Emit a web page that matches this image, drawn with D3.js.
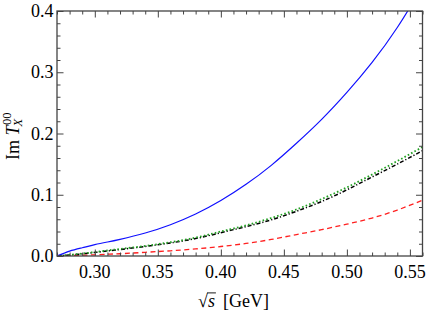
<!DOCTYPE html>
<html><head><meta charset="utf-8">
<script src="https://cdn.jsdelivr.net/npm/d3@7"></script>
<style>body{margin:0;background:#fff}svg{display:block}</style>
</head><body>
<svg id="c" width="427" height="313"></svg>
<script>
const sqrtS = [0.27,0.28,0.29,0.30,0.31,0.32,0.34,0.36,0.38,0.40,0.42,0.44,0.46,0.48,0.50,0.52,0.54,0.56];
const blue  = [0.000,0.008,0.0135,0.0185,0.0228,0.0272,0.0375,0.051,0.0685,0.0905,0.117,0.148,0.184,0.223,0.267,0.316,0.373,0.440];
const green = [0.000,0.002,0.004,0.0065,0.009,0.0115,0.0165,0.0225,0.030,0.040,0.050,0.062,0.076,0.093,0.112,0.133,0.155,0.178];
const black = [0.000,0.0017,0.0035,0.0058,0.0082,0.0106,0.0155,0.0213,0.0285,0.038,0.048,0.059,0.073,0.089,0.108,0.129,0.150,0.172];
const red   = [0.000,0.0007,0.0013,0.002,0.003,0.0037,0.006,0.0085,0.0115,0.0155,0.0205,0.027,0.035,0.043,0.052,0.062,0.075,0.091];
const xTicks = [0.30,0.35,0.40,0.45,0.50,0.55];
const yTicks = [0.0,0.1,0.2,0.3,0.4];

const svg = d3.select("#c");
const L=57, R=422.5, T=11, B=256;
const x = d3.scaleLinear().domain([0.27,0.56]).range([L,R]);
const y = d3.scaleLinear().domain([0,0.4]).range([B,T]);
const font = "'Liberation Serif','Times New Roman','DejaVu Serif',serif";
const fs = 18;
const frameColor = "#444";

svg.append("clipPath").attr("id","clip").append("rect")
  .attr("x",L).attr("y",T).attr("width",R-L).attr("height",B-T);

const series = [
  {v: red,   color:"#ff2020", dash:"5,3.5", w:1.3},
  {v: black, color:"#000",    dash:"4,2,1.2,2", w:1.5},
  {v: green, color:"#22a022", dash:"1.6,2.2", w:1.8},
  {v: blue,  color:"#1010ff", dash:null, w:1.2},
];
const line = d3.line().curve(d3.curveNatural);
const g = svg.append("g").attr("clip-path","url(#clip)");
series.forEach(s=>{
  g.append("path")
   .attr("d", line(sqrtS.map((d,i)=>[x(d), y(s.v[i])])))
   .attr("fill","none").attr("stroke",s.color).attr("stroke-width",s.w)
   .attr("stroke-dasharray",s.dash);
});

const minorX = d3.range(0.27,0.5601,0.01).map(v=>+v.toFixed(2));
const minorY = d3.range(0,0.4001,0.02).map(v=>+v.toFixed(2));
const ax = svg.append("g");
function tickSet(axisGen, tr, vals, size){
  const a = ax.append("g").attr("transform",tr).call(axisGen.tickValues(vals).tickSize(size).tickFormat(""));
  a.select(".domain").remove();
  a.selectAll("line").attr("stroke",frameColor).attr("stroke-width",1);
  return a;
}
const isMajX = v => xTicks.some(t=>Math.abs(t-v)<1e-6);
const isMajY = v => yTicks.some(t=>Math.abs(t-v)<1e-6);
tickSet(d3.axisTop(x), `translate(0,${B})`, minorX.filter(v=>!isMajX(v)), 3.5);
tickSet(d3.axisTop(x), `translate(0,${B})`, xTicks, 6.5);
tickSet(d3.axisBottom(x), `translate(0,${T})`, minorX.filter(v=>!isMajX(v)), 3.5);
tickSet(d3.axisBottom(x), `translate(0,${T})`, xTicks, 6.5);
tickSet(d3.axisRight(y), `translate(${L},0)`, minorY.filter(v=>!isMajY(v)), 3.5);
tickSet(d3.axisRight(y), `translate(${L},0)`, yTicks, 6.5);
tickSet(d3.axisLeft(y), `translate(${R},0)`, minorY.filter(v=>!isMajY(v)), 3.5);
tickSet(d3.axisLeft(y), `translate(${R},0)`, yTicks, 6.5);

svg.append("rect").attr("x",L).attr("y",T).attr("width",R-L).attr("height",B-T)
  .attr("fill","none").attr("stroke",frameColor).attr("stroke-width",1.3);

svg.append("g").selectAll("text").data(xTicks).join("text")
  .attr("x",d=>x(d)).attr("y",277.5).attr("text-anchor","middle")
  .style("font-family",font).attr("font-size",fs).text(d=>d.toFixed(2));
svg.append("g").selectAll("text").data(yTicks).join("text")
  .attr("x",53.5).attr("y",d=>y(d)+6).attr("text-anchor","end")
  .style("font-family",font).attr("font-size",fs).text(d=>d.toFixed(1));

// x label
const xl = svg.append("g").attr("transform","translate(0,306.5)");
const xt = xl.append("text").style("font-family",font).attr("font-size",fs).attr("x",198);
xt.append("tspan").text("\u221A");
xt.append("tspan").attr("font-style","italic").text("s");
xt.append("tspan").text("\u2009 [GeV]");
const rad = xt.node().getEndPositionOfChar(0);
const sEnd = xt.node().getEndPositionOfChar(1);
xl.append("line").attr("x1",rad.x-0.8).attr("x2",sEnd.x+1).attr("y1",-13.6).attr("y2",-13.6)
  .attr("stroke","#000").attr("stroke-width",0.9);

// y label
const yl = svg.append("g").attr("transform","translate(18.5,160) rotate(-90)");
const yt = yl.append("text").style("font-family",font).attr("font-size",fs).attr("x",0).attr("y",0);
yt.append("tspan").text("Im ");
yt.append("tspan").attr("font-style","italic").text("T");
const w = yt.node().getComputedTextLength();
yl.append("text").style("font-family",font).attr("font-size",fs*0.7).attr("x",w+0.5).attr("y",-7.5).text("00");
yl.append("text").style("font-family",font).attr("font-size",fs*0.7).attr("font-style","italic").attr("x",w-1).attr("y",3.5).text("X");
</script>
</body></html>
